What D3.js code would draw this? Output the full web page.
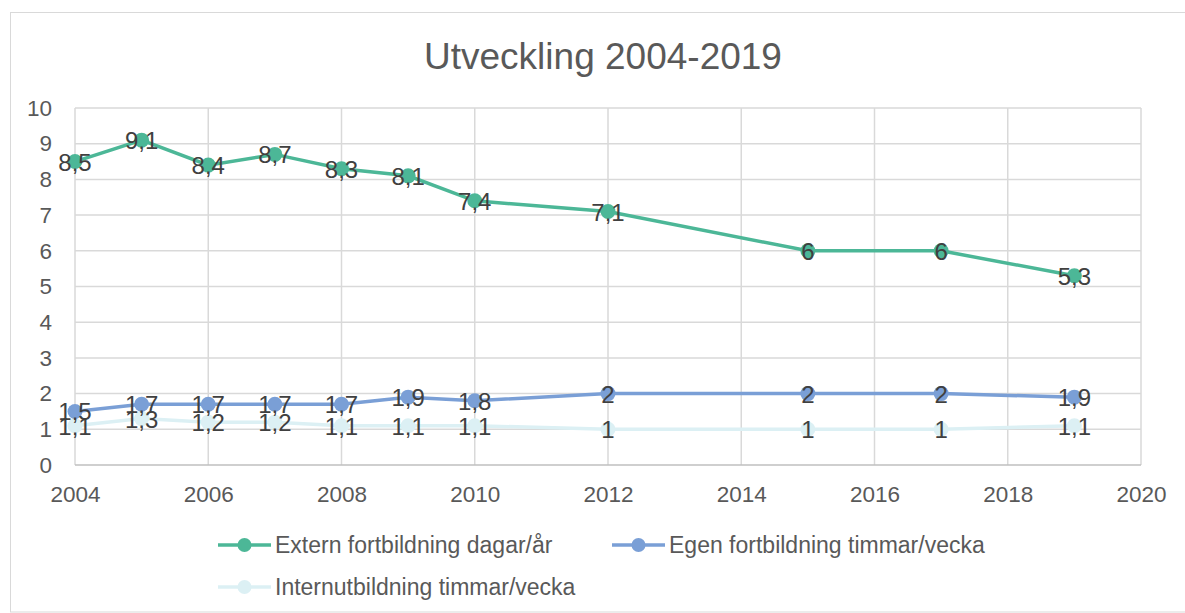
<!DOCTYPE html>
<html><head><meta charset="utf-8">
<script src="https://cdn.jsdelivr.net/npm/d3@7"></script>
<style>body{margin:0;background:#fff}svg{display:block}text{font-family:"Liberation Sans",Arial,sans-serif}</style>
</head><body>
<script>
const years = [2004, 2005, 2006, 2007, 2008, 2009, 2010, 2012, 2015, 2017, 2019];
const extern = [8.5, 9.1, 8.4, 8.7, 8.3, 8.1, 7.4, 7.1, 6, 6, 5.3];
const egen = [1.5, 1.7, 1.7, 1.7, 1.7, 1.9, 1.8, 2, 2, 2, 1.9];
const intern = [1.1, 1.3, 1.2, 1.2, 1.1, 1.1, 1.1, 1, 1, 1, 1.1];
const seriesNames = ["Extern fortbildning dagar/år", "Egen fortbildning timmar/vecka", "Internutbildning timmar/vecka"];
const xTicks = [2004, 2006, 2008, 2010, 2012, 2014, 2016, 2018, 2020];
const yTicks = [0, 1, 2, 3, 4, 5, 6, 7, 8, 9, 10];
const title = "Utveckling 2004-2019";

const W = 1185, H = 613;
const colors = ["#4cb797", "#7a9fd6", "#dcf0f4"];
const series = [extern, egen, intern];

const svg = d3.select("body").append("svg").attr("width", W).attr("height", H);
svg.append("rect").attr("x", 10.5).attr("y", 12.5).attr("width", 1200).attr("height", 599.5)
  .attr("fill", "#fff").attr("stroke", "#d9d9d9").attr("stroke-width", 1);

const x = d3.scaleLinear().domain([2004, 2020]).range([75, 1141]);
const y = d3.scaleLinear().domain([0, 10]).range([465, 108]);

svg.append("text").attr("x", 603).attr("y", 69).attr("text-anchor", "middle")
  .attr("font-size", 37).attr("fill", "#595959").text(title);

const g = svg.append("g");
g.selectAll(".hg").data(yTicks.slice(1)).join("line")
  .attr("x1", x(2004)).attr("x2", x(2020)).attr("y1", d => y(d)).attr("y2", d => y(d))
  .attr("stroke", "#d9d9d9").attr("stroke-width", 1.5);
g.selectAll(".vg").data(xTicks).join("line")
  .attr("x1", d => x(d)).attr("x2", d => x(d)).attr("y1", y(0)).attr("y2", y(10))
  .attr("stroke", "#d9d9d9").attr("stroke-width", 1.5);
g.append("line").attr("x1", x(2004)).attr("x2", x(2020)).attr("y1", y(0)).attr("y2", y(0))
  .attr("stroke", "#bfbfbf").attr("stroke-width", 1.5);

const xAxis = svg.append("g").attr("transform", `translate(0,${y(0)})`)
  .call(d3.axisBottom(x).tickValues(xTicks).tickFormat(d3.format("d")).tickSize(0).tickPadding(21));
xAxis.select(".domain").remove();
xAxis.selectAll("text").attr("font-size", 22.5).attr("fill", "#595959").attr("font-family", '"Liberation Sans",Arial,sans-serif');
const yAxis = svg.append("g").attr("transform", `translate(${x(2004)},0)`)
  .call(d3.axisLeft(y).tickValues(yTicks).tickSize(0).tickPadding(23));
yAxis.select(".domain").remove();
yAxis.selectAll("text").attr("font-size", 22.5).attr("fill", "#595959").attr("font-family", '"Liberation Sans",Arial,sans-serif');

const line = d3.line().x((d, i) => x(years[i])).y(d => y(d));
const fmt = v => String(v).replace(".", ",");

[2, 1, 0].forEach(si => {
  const s = series[si];
  svg.append("path").datum(s).attr("d", line).attr("fill", "none")
    .attr("stroke", colors[si]).attr("stroke-width", 3.5);
  svg.selectAll(".m" + si).data(s).join("circle")
    .attr("cx", (d, i) => x(years[i])).attr("cy", d => y(d)).attr("r", 7.5)
    .attr("fill", colors[si]);
});
[0, 1, 2].forEach(si => {
  const s = series[si];
  svg.selectAll(".l" + si).data(s).join("text")
    .attr("x", (d, i) => x(years[i])).attr("y", d => y(d) + 9)
    .attr("text-anchor", "middle").attr("font-size", 24).attr("fill", "#404040")
    .text(d => fmt(d));
});

const leg = [
  {i: 0, x: 218, y: 545},
  {i: 1, x: 612, y: 545},
  {i: 2, x: 218, y: 587}
];
leg.forEach(l => {
  svg.append("line").attr("x1", l.x).attr("x2", l.x + 53).attr("y1", l.y).attr("y2", l.y)
    .attr("stroke", colors[l.i]).attr("stroke-width", 3.5);
  svg.append("circle").attr("cx", l.x + 26.5).attr("cy", l.y).attr("r", 7).attr("fill", colors[l.i]);
  svg.append("text").attr("x", l.x + 57).attr("y", l.y + 8).attr("font-size", 23)
    .attr("fill", "#595959").text(seriesNames[l.i]);
});
</script>
</body></html>
